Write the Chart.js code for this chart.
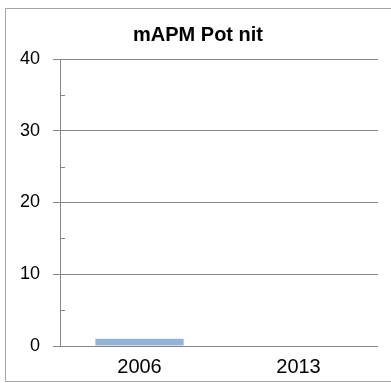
<!DOCTYPE html>
<html>
<head>
<meta charset="utf-8">
<script src="https://cdn.jsdelivr.net/npm/chart.js@4"></script>
<style>
  html, body { margin: 0; padding: 0; background: #fff; overflow: hidden; }
  canvas { display: block; }
</style>
</head>
<body>
<canvas id="chart" width="391" height="383"></canvas>
<script>
// Chart data
const years = ["2006", "2013"]
const values = [1, 0]
const yMax = 40
const yStep = 5

const axisGray = "#868686"
const labelFont = "'Liberation Sans', Arial, sans-serif"

// outer chart frame (right edge runs off the picture)
const frame = {
  id: "frame",
  beforeDraw(chart) {
    const ctx = chart.ctx
    ctx.save()
    ctx.fillStyle = "#fff"
    ctx.fillRect(0, 0, chart.width, chart.height)
    ctx.strokeStyle = "#a6a6a6"
    ctx.lineWidth = 1
    ctx.beginPath()
    ctx.moveTo(chart.width + 10, 8.5)
    ctx.lineTo(5.5, 8.5)
    ctx.lineTo(5.5, 381.5)
    ctx.lineTo(chart.width + 10, 381.5)
    ctx.stroke()
    ctx.restore()
  },
}

// small inner tick marks on the value axis (the 5, 15, 25, 35 minor ticks)
const minorTicks = {
  id: "minorTicks",
  afterDraw(chart) {
    const y = chart.scales.y
    const ctx = chart.ctx
    const left = chart.chartArea.left
    ctx.save()
    ctx.strokeStyle = axisGray
    ctx.lineWidth = 1
    for (let v = yStep; v < yMax; v += 2 * yStep) {
      const py = Math.round(y.getPixelForValue(v)) + 0.5
      ctx.beginPath()
      ctx.moveTo(left, py)
      ctx.lineTo(left + 5, py)
      ctx.stroke()
    }
    ctx.restore()
  },
}

new Chart(document.getElementById("chart"), {
  type: "bar",
  data: {
    labels: years,
    datasets: [
      {
        label: "mAPM Pot nit",
        data: values,
        backgroundColor: "#95b3d7",
        borderWidth: 0,
        categoryPercentage: 1,
        barPercentage: 0.555,
      },
    ],
  },
  options: {
    responsive: false,
    animation: false,
    // uneven side padding keeps the title centred on the frame, not the canvas
    layout: { padding: { left: 18, right: 13, top: 0, bottom: 0 } },
    plugins: {
      legend: { display: false },
      tooltip: { enabled: false },
      title: {
        display: true,
        text: "mAPM Pot nit",
        color: "#000",
        font: { family: labelFont, size: 20, weight: "bold", lineHeight: 1.2 },
        padding: { top: 23, bottom: 12 },
      },
    },
    scales: {
      x: {
        grid: { display: false, drawTicks: false },
        border: { display: false },
        ticks: {
          color: "#000",
          padding: 9,
          font: { family: labelFont, size: 20 },
        },
        afterFit(scale) {
          scale.height = 37
        },
      },
      y: {
        min: 0,
        max: yMax,
        grid: {
          color: (ctx) => (ctx.tick && ctx.tick.value % 10 === 0 ? axisGray : "rgba(0,0,0,0)"),
          lineWidth: 1,
          drawTicks: true,
          tickLength: 7,
        },
        border: { display: true, color: axisGray, width: 1 },
        ticks: {
          stepSize: yStep,
          color: "#000",
          padding: 13,
          font: { family: labelFont, size: 18 },
          callback: (v) => (v % 10 === 0 ? v : ""),
        },
        afterFit(scale) {
          scale.width = 42
        },
      },
    },
  },
  plugins: [frame, minorTicks],
})
</script>
</body>
</html>
